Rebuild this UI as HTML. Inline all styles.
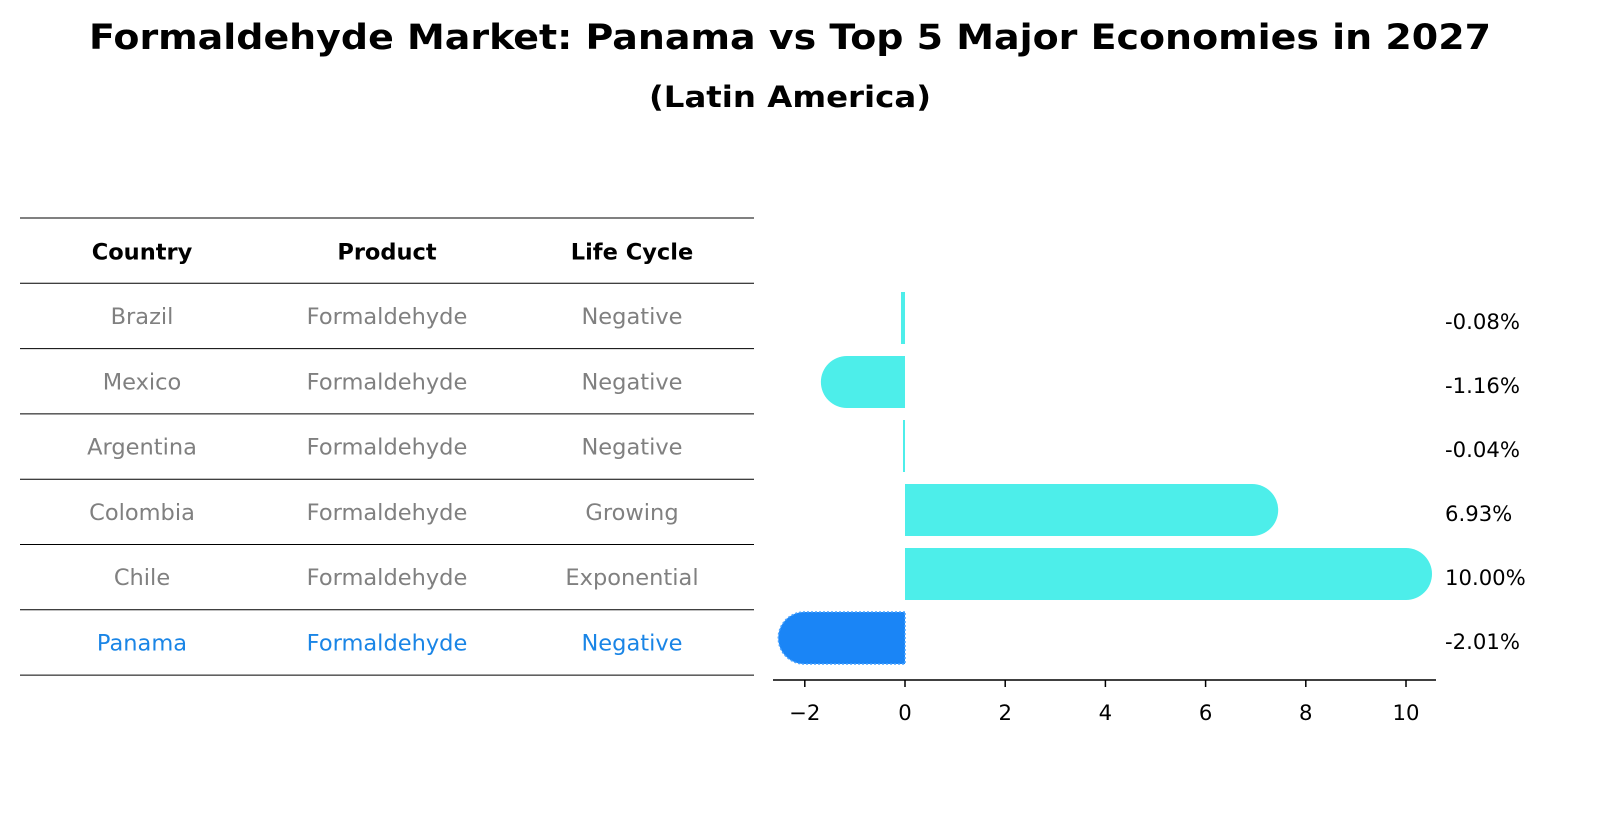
<!DOCTYPE html>
<html><head><meta charset="utf-8"><style>
html,body{margin:0;padding:0;background:#fff;}
svg{display:block;font-family:"DejaVu Sans","Liberation Sans",sans-serif;}
</style></head><body>
<svg id="chart" width="1604" height="823" viewBox="0 0 1604 823" xmlns="http://www.w3.org/2000/svg">
<text x="790" y="49" text-anchor="middle" font-weight="bold" font-size="35" textLength="1402" lengthAdjust="spacingAndGlyphs">Formaldehyde Market: Panama vs Top 5 Major Economies in 2027</text>
<text x="790" y="107" text-anchor="middle" font-weight="bold" font-size="29" textLength="282" lengthAdjust="spacingAndGlyphs">(Latin America)</text>
<g id="table"></g>
<g id="bars"></g>
</svg>
<script>
const countries=["Brazil","Mexico","Argentina","Colombia","Chile","Panama"];
const products=["Formaldehyde","Formaldehyde","Formaldehyde","Formaldehyde","Formaldehyde","Formaldehyde"];
const lifeCycles=["Negative","Negative","Negative","Growing","Exponential","Negative"];
const growth=[-0.08,-1.16,-0.04,6.93,10.00,-2.01];
const xTicks=[-2,0,2,4,6,8,10];
const highlight="Panama";

const NS="http://www.w3.org/2000/svg";
function mk(tag,attrs,parent){const e=document.createElementNS(NS,tag);for(const k in attrs)e.setAttribute(k,attrs[k]);parent.appendChild(e);return e;}
const tbl=document.getElementById('table');
const bars=document.getElementById('bars');
const FS=26.5;
// table
const rowTop=218,rowH=65.3,colX=[142,387,632];
const headers=["Country","Product","Life Cycle"];
for(let i=0;i<=countries.length+1;i++){
  const l=mk('line',{x1:20,x2:754,y1:rowTop+i*rowH,y2:rowTop+i*rowH,stroke:'#000','stroke-width':1},tbl);
  
  
}
headers.forEach((h,j)=>{
  const t=mk('text',{x:colX[j],y:rowTop+rowH/2+9,'text-anchor':'middle','font-size':FS*0.85,'font-weight':'bold',fill:'#000'},tbl);
  t.textContent=h;
  
  
});
countries.forEach((c,i)=>{
  const col=c===highlight?'#1a85e6':'#808080';
  [c,products[i],lifeCycles[i]].forEach((v,j)=>{
    const t=mk('text',{x:colX[j],y:rowTop+rowH*(i+1)+rowH/2+8,'text-anchor':'middle','font-size':FS*0.85,fill:col},tbl);
    t.textContent=v;
    
    
  });
});
// bar chart
const x0=905,pxPer=50.1;
function xs(v){return x0+v*pxPer;}
const barC0=318,barStep=64,bh=52,r=26;
function yc(i){return barC0+i*barStep;}
growth.forEach((v,i)=>{
  const hi=countries[i]===highlight;
  const col=hi?'#1a85f6':'#4deeea';
  const xa=Math.min(xs(0),xs(v)),w=Math.abs(xs(v)-xs(0));
  const y=yc(i)-bh/2;
  let p;
  if(w>r){
    let d;
    if(v<0){d=`M${xs(0)},${y} L${xs(v)},${y} A${r},${r} 0 0 0 ${xs(v)},${y+bh} L${xs(0)},${y+bh} Z`;}
    else{d=`M${xs(0)},${y} L${xs(v)},${y} A${r},${r} 0 0 1 ${xs(v)},${y+bh} L${xs(0)},${y+bh} Z`;}
    p=mk('path',{d:d,fill:col},bars);
  }else{
    p=mk('rect',{x:xa,y:y,width:Math.max(w,2),height:bh,fill:col},bars);
  }
  if(hi){p.setAttribute('stroke','#4aa3ff');p.setAttribute('stroke-dasharray','2 2');p.setAttribute('stroke-width','1.5');}
  
  
  const t=mk('text',{x:1445,y:yc(i)+11,'font-size':FS*0.8,fill:'#000'},bars);
  t.textContent=v.toFixed(2)+'%';
  
  
});
const ax=mk('line',{x1:773,x2:1436,y1:680,y2:680,stroke:'#000','stroke-width':1.5},bars);


xTicks.forEach(v=>{
  const tk=mk('line',{x1:xs(v),x2:xs(v),y1:680,y2:687,stroke:'#000','stroke-width':1.5},bars);
  
  
  const t=mk('text',{x:xs(v),y:720,'text-anchor':'middle','font-size':FS*0.8,fill:'#000'},bars);
  t.textContent=v<0?'\u2212'+Math.abs(v):String(v);
  
  
});
</script>
</body></html>
